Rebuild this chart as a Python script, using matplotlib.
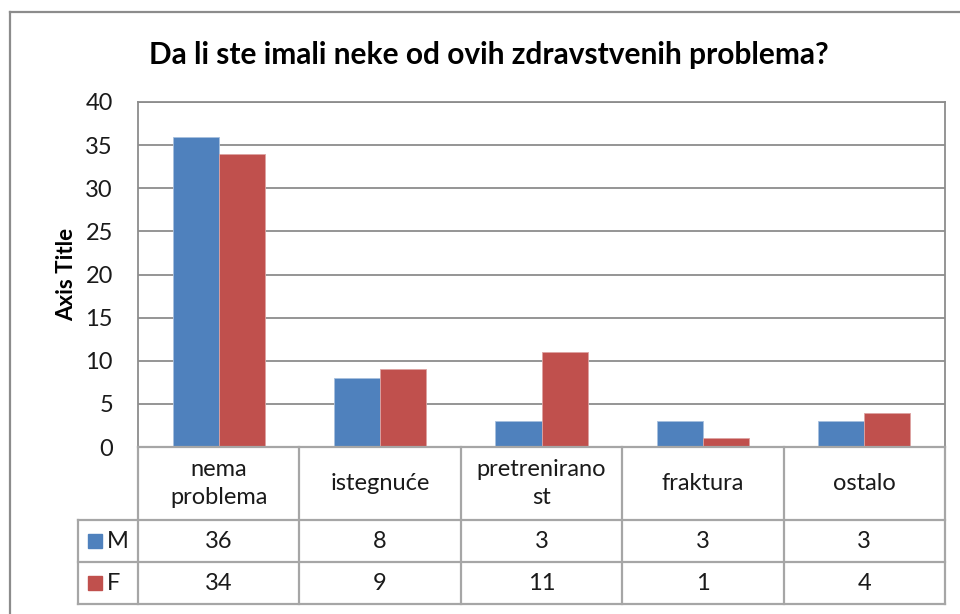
import matplotlib.pyplot as plt
from matplotlib.lines import Line2D
from matplotlib.patches import Rectangle
import numpy as np

categories = ['nema\nproblema', 'istegnuće', 'pretrenirano\nst', 'fraktura', 'ostalo']
series_names = ['M', 'F']
m_values = [36, 8, 3, 3, 3]
f_values = [34, 9, 11, 1, 4]
y_ticks = [0, 5, 10, 15, 20, 25, 30, 35, 40]

title = 'Da li ste imali neke od ovih zdravstvenih problema?'
y_title = 'Axis Title'

blue = '#4F81BD'
red = '#C0504D'
grid_c = '#8C8C8C'
table_c = '#A6A6A6'
txt_c = '#1A1A1A'

plt.rcParams['font.family'] = ['Lato', 'DejaVu Sans']

W, H = 960, 614
fig = plt.figure(figsize=(9.6, 6.14), dpi=100)

def fx(px):
    return px / W

def fy(py):
    return 1 - py / H

# outer chart frame (only top and left visible)
fig.add_artist(Line2D([fx(10), fx(960)], [fy(12), fy(12)], color='#8C8C8C', lw=1.6))
fig.add_artist(Line2D([fx(10), fx(10)], [fy(12), fy(614)], color='#8C8C8C', lw=1.6))

# plot area
left, right, top, bottom = 138, 945, 102, 447
ax = fig.add_axes([fx(left), fy(bottom), fx(right - left), (bottom - top) / H])

x = np.arange(len(categories)) + 0.5
bw = 1 / 3.5
ax.bar(x - bw / 2, m_values, bw, color=blue, edgecolor='#A7BFDE', lw=0.6, zorder=3)
ax.bar(x + bw / 2, f_values, bw, color=red, edgecolor='#DDA3A2', lw=0.6, zorder=3)

ax.set_xlim(0, len(categories))
ax.set_ylim(0, 40)
ax.set_yticks(y_ticks)
ax.set_yticklabels([str(t) for t in y_ticks], fontsize=17, color=txt_c)
ax.tick_params(axis='y', length=0, pad=18)
ax.set_xticks([])
ax.grid(axis='y', color=grid_c, lw=1.3, zorder=0)
for s in ax.spines.values():
    s.set_color(grid_c)
    s.set_linewidth(1.3)

ax.set_ylabel(y_title, fontsize=16, fontweight='bold', labelpad=6)

fig.text(fx(489), fy(55), title, ha='center', va='center', fontsize=21.5, fontweight='bold')

# data table under the plot
t_left, t_bottom = 78, 604
tax = fig.add_axes([fx(t_left), fy(t_bottom), fx(right - t_left), (t_bottom - bottom) / H])
col_w = (right - left) / len(categories)
lx = -(left - t_left) / col_w
tax.set_xlim(lx, len(categories))
tax.set_ylim(t_bottom - bottom, 0)
tax.axis('off')

rows = [0, 73, 115, 157]
lk = dict(color=table_c, lw=1.6, clip_on=False)
tax.plot([0, len(categories)], [rows[0], rows[0]], **lk)
for r in rows[1:]:
    tax.plot([lx, len(categories)], [r, r], **lk)
for c in range(len(categories) + 1):
    tax.plot([c, c], [rows[0], rows[3]], **lk)
tax.plot([lx, lx], [rows[1], rows[3]], **lk)

for i, cat in enumerate(categories):
    tax.text(i + 0.5, (rows[0] + rows[1]) / 2, cat, ha='center', va='center',
             fontsize=17, linespacing=1.4, color=txt_c)

series = [m_values, f_values]
colors = [blue, red]
sq = 14 / col_w
for k, (name, vals, col) in enumerate(zip(series_names, series, colors)):
    yc = (rows[k + 1] + rows[k + 2]) / 2
    tax.add_patch(Rectangle((lx + 10 / col_w, yc - 7), sq, 14, color=col, clip_on=False))
    tax.text(lx + 29 / col_w, yc, name, ha='left', va='center', fontsize=17, color=txt_c)
    for i, v in enumerate(vals):
        tax.text(i + 0.5, yc, str(v), ha='center', va='center', fontsize=17, color=txt_c)

fig.savefig('out.png', dpi=100)
